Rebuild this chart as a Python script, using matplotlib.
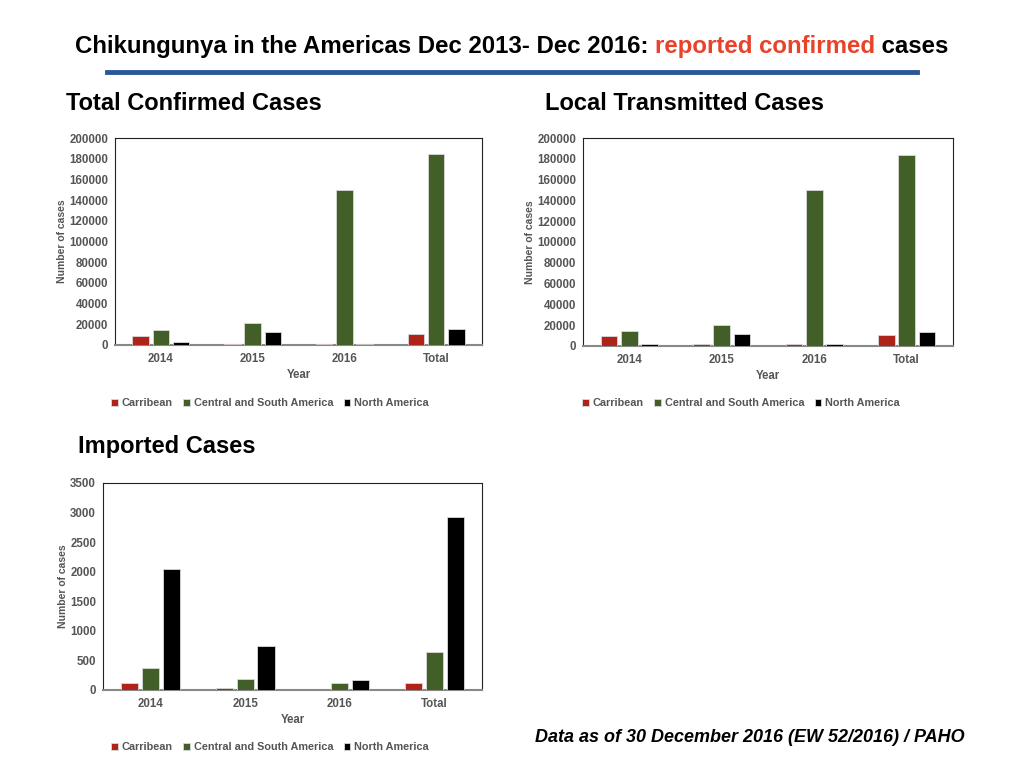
import matplotlib
matplotlib.use('Agg')
import matplotlib.pyplot as plt
import numpy as np

plt.rcParams['font.family'] = ['Liberation Sans', 'DejaVu Sans']

#%% Data
years = ['2014', '2015', '2016', 'Total']
regions = ['Carribean', 'Central and South America', 'North America']

total_carib = [9000, 600, 600, 11000]
total_csa = [14200, 21600, 150000, 185000]
total_na = [2600, 12600, 500, 15800]

local_carib = [9700, 1500, 1500, 10600]
local_csa = [14200, 20000, 149700, 183500]
local_na = [1600, 11600, 1500, 13500]

imp_carib = [118, 34, 0, 118]
imp_csa = [367, 186, 113, 638]
imp_na = [2044, 740, 169, 2919]

colors = ['#b0231b', '#435f28', '#000000']
grey = '#555555'

#%% Figure
fig = plt.figure(figsize=(10.24, 7.68), dpi=100)
W, H = 1024, 768

def px(x, y):
    return x / W, 1 - y / H

def bar_panel(rect, series, ymax, ystep, leg_y, leg_x):
    ax = fig.add_axes(rect)
    x = np.arange(len(years))
    off = [-0.22, 0, 0.22]
    for vals, c, o, lab in zip(series, colors, off, regions):
        ax.bar(x + o, vals, width=0.18, color=c, edgecolor='#d9d9d9',
               linewidth=0.6, label=lab, zorder=3)
    ax.set_xlim(-0.5, len(years) - 0.5)
    ax.set_ylim(0, ymax)
    ax.set_yticks(np.arange(0, ymax + 1, ystep))
    ax.set_xticks(x)
    ax.set_xticklabels(years)
    ax.tick_params(length=0, labelsize=8.3, colors=grey, pad=6)
    ax.tick_params(axis='y', pad=5)
    for t in ax.get_xticklabels() + ax.get_yticklabels():
        t.set_fontweight('bold')
    for s in ax.spines.values():
        s.set_color('#222222')
        s.set_linewidth(0.8)
    ax.spines['bottom'].set_color('#888888')
    ax.spines['bottom'].set_linewidth(1.5)
    ax.set_ylabel('Number of cases', fontsize=7.5, fontweight='bold',
                  color=grey, labelpad=1.5)
    ax.set_xlabel('Year', fontsize=8.3, fontweight='bold', color=grey,
                  labelpad=3)
    ax.legend(loc='center', bbox_to_anchor=(leg_x, leg_y),
              bbox_transform=fig.transFigure, ncol=3, frameon=False,
              prop={'weight': 'bold', 'size': 7.8},
              handlelength=0.6, handleheight=0.6, handletextpad=0.35,
              columnspacing=1.0, labelcolor=grey)
    return ax

ax1 = bar_panel([0.1123, 0.5508, 0.3584, 0.2695],
                [total_carib, total_csa, total_na], 200000, 20000,
                1 - 403 / H, 270 / W)
ax2 = bar_panel([0.5693, 0.5495, 0.3613, 0.2708],
                [local_carib, local_csa, local_na], 200000, 20000,
                1 - 403 / H, 741 / W)
ax3 = bar_panel([0.1006, 0.1016, 0.3701, 0.2695],
                [imp_carib, imp_csa, imp_na], 3500, 500,
                1 - 747 / H, 270 / W)

#%% Headings
fig.text(*px(66, 103), 'Total Confirmed Cases', fontsize=17,
         fontweight='bold', va='center', ha='left')
fig.text(*px(545, 103), 'Local Transmitted Cases', fontsize=17,
         fontweight='bold', va='center', ha='left')
fig.text(*px(78, 446), 'Imported Cases', fontsize=17,
         fontweight='bold', va='center', ha='left')

# title in three coloured pieces
parts = [('Chikungunya in the Americas Dec 2013- Dec 2016: ', 'black'),
         ('reported confirmed', '#e8422b'),
         (' cases', 'black')]
fig.canvas.draw()
r = fig.canvas.get_renderer()
texts = []
for s, c in parts:
    texts.append(fig.text(0, 1 - 53 / H, s, fontsize=17.3, fontweight='bold',
                          color=c, va='baseline', ha='left'))
widths = [t.get_window_extent(renderer=r).width for t in texts]
x0 = (512 - sum(widths) / 2) / W
for t, w in zip(texts, widths):
    t.set_x(x0)
    x0 += w / W

fig.add_artist(plt.Line2D([107 / W, 917 / W], [1 - 72 / H, 1 - 72 / H],
                          color='#2b5797', linewidth=3.5))

fig.text(*px(965, 738), 'Data as of 30 December 2016 (EW 52/2016) / PAHO',
         fontsize=12.95, fontweight='bold', style='italic', ha='right',
         va='center')

fig.savefig('out.png', dpi=100, facecolor='w')
